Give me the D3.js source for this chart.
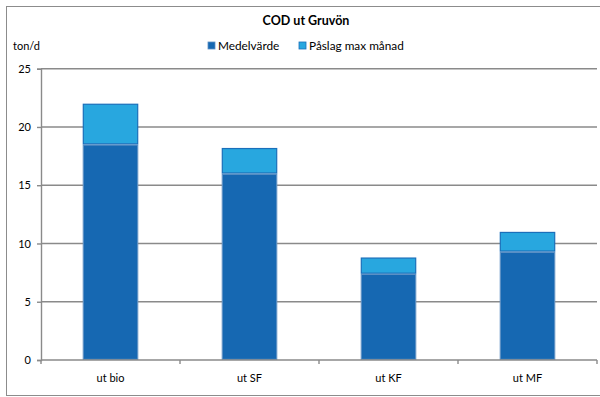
<!DOCTYPE html>
<html>
<head>
<meta charset="utf-8">
<script src="https://cdn.jsdelivr.net/npm/d3@7"></script>
<style>
  html, body { margin: 0; padding: 0; background: #fff; }
  svg { display: block; font-family: Lato, "Liberation Sans", sans-serif; }
</style>
</head>
<body>
<svg id="chart" width="600" height="397"></svg>
<script>
// COD discharge from Gruvön, ton per day
const categories = ["ut bio", "ut SF", "ut KF", "ut MF"];
const medelvarde = [18.5, 16.0, 7.4, 9.3];
const paslagMax = [3.5, 2.2, 1.4, 1.7];
const yTicks = [0, 5, 10, 15, 20, 25];
const seriesNames = ["Medelvärde", "Påslag max månad"];
const seriesColors = ["#1668B2", "#28A7DF"];
const seriesStrokes = ["#5c8fc4", "#1a6fba"];

const svg = d3.select("#chart");
const W = 600, H = 397;
const plot = { left: 41, right: 597, top: 68.7, bottom: 360 };

// outer chart frame
svg.append("rect")
  .attr("x", 6.5).attr("y", 6.5)
  .attr("width", W).attr("height", 389)
  .attr("fill", "#fff").attr("stroke", "#8c8c8c").attr("stroke-width", 1);

const x = d3.scaleBand()
  .domain(categories)
  .range([plot.left, plot.right])
  .paddingInner(0.6).paddingOuter(0.3);

const xOuter = d3.scaleBand()
  .domain(categories)
  .range([plot.left, plot.right]);

const y = d3.scaleLinear().domain([0, 25]).range([plot.bottom, plot.top]);

// horizontal gridlines
svg.append("g")
  .selectAll("line")
  .data(yTicks.filter(d => d > 0))
  .join("line")
  .attr("x1", plot.left).attr("x2", plot.right)
  .attr("y1", d => y(d)).attr("y2", d => y(d))
  .attr("stroke", "#8a8a8a").attr("stroke-width", 1.4);

// y axis
const yAxis = svg.append("g")
  .attr("transform", `translate(${plot.left},0)`)
  .call(d3.axisLeft(y).tickValues(yTicks).tickSize(4).tickPadding(6).tickFormat(d3.format("d")));
yAxis.select(".domain").attr("stroke", "#8a8a8a").attr("stroke-width", 1.4);
yAxis.selectAll(".tick line").attr("stroke", "#8a8a8a").attr("stroke-width", 1.4);
yAxis.selectAll(".tick text")
  .attr("font-family", "Lato, sans-serif").attr("font-size", 11).attr("fill", "#000");

// stacked bars
const stackData = categories.map((c, i) => ({ cat: c, m: medelvarde[i], p: paslagMax[i] }));
const stack = d3.stack().keys(["m", "p"])(stackData);

svg.append("g")
  .selectAll("g")
  .data(stack)
  .join("g")
  .attr("fill", (d, i) => seriesColors[i])
  .attr("stroke", (d, i) => seriesStrokes[i])
  .attr("stroke-width", 1.2)
  .selectAll("rect")
  .data(d => d)
  .join("rect")
  .attr("x", d => x(d.data.cat) + 0.6)
  .attr("width", x.bandwidth() - 1.2)
  .attr("y", d => y(d[1]) + 0.6)
  .attr("height", d => Math.max(0, y(d[0]) - y(d[1]) - 1.2));

// x axis with tick marks at category boundaries
const xAxisG = svg.append("g").attr("transform", `translate(0,${plot.bottom})`);
xAxisG.append("line")
  .attr("x1", plot.left).attr("x2", plot.right)
  .attr("stroke", "#8a8a8a").attr("stroke-width", 1.4);
const boundaries = categories.map(c => xOuter(c)).concat([plot.right]);
xAxisG.selectAll("line.tk")
  .data(boundaries)
  .join("line")
  .attr("class", "tk")
  .attr("x1", d => d).attr("x2", d => d)
  .attr("y1", 0).attr("y2", 4)
  .attr("stroke", "#8a8a8a").attr("stroke-width", 1.4);
xAxisG.selectAll("text")
  .data(categories)
  .join("text")
  .attr("x", d => xOuter(d) + xOuter.bandwidth() / 2)
  .attr("y", 22)
  .attr("text-anchor", "middle")
  .attr("font-size", 11)
  .text(d => d);

// title
svg.append("text")
  .attr("x", 306).attr("y", 25)
  .attr("text-anchor", "middle")
  .attr("font-weight", "bold")
  .attr("font-size", 12.5)
  .text("COD ut Gruvön");

// unit label
svg.append("text")
  .attr("x", 13).attr("y", 50)
  .attr("font-size", 11)
  .text("ton/d");

// legend
const legendX = [208, 299];
const legend = svg.append("g")
  .selectAll("g")
  .data(seriesNames)
  .join("g")
  .attr("transform", (d, i) => `translate(${legendX[i]},42)`);
legend.append("rect")
  .attr("width", 7).attr("height", 7)
  .attr("fill", (d, i) => seriesColors[i])
  .attr("stroke", (d, i) => seriesStrokes[i]).attr("stroke-width", 0.8);
legend.append("text")
  .attr("x", 10).attr("y", 8)
  .attr("font-size", 11.8)
  .text(d => d);
</script>
</body>
</html>
